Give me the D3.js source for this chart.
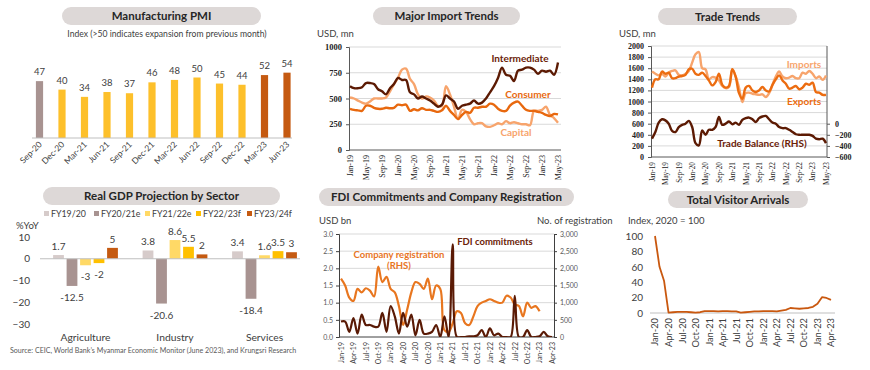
<!DOCTYPE html>
<html>
<head>
<meta charset="utf-8">
<script src="https://cdn.jsdelivr.net/npm/d3@7"></script>
<style>
  body { margin: 0; background: #fff; }
  svg { display: block; font-family: Lato, "Open Sans", sans-serif; }
</style>
</head>
<body>
<svg id="chart" width="870" height="370"></svg>
<script>
// ---- data ----
const pmiLabels = ["Sep-20","Dec-20","Mar-21","Jun-21","Sep-21","Dec-21","Mar-22","Jun-22","Sep-22","Dec-22","Mar-23","Jun-23"];
const pmiValues = [47, 40, 34, 38, 37, 46, 48, 50, 45, 44, 52, 54];
const pmiGroup = ["pre","mid","mid","mid","mid","mid","mid","mid","mid","mid","late","late"];

// monthly, Jan-19 .. May-23
const intermediate = [620,600,600,610,650,650,640,590,570,540,600,640,
  700,680,680,560,540,500,520,500,480,450,420,440,
  530,500,470,400,430,440,450,480,450,460,500,560,
  620,700,800,730,720,670,770,780,800,800,780,740,
  770,760,770,730,850];
const consumer = [400,390,385,380,430,430,410,400,400,410,405,410,
  440,435,440,380,395,385,405,390,390,380,370,385,
  430,380,340,300,340,370,360,410,410,420,420,450,
  440,400,380,380,430,460,470,430,390,380,380,370,
  360,340,330,350,345];
const capital = [510,500,480,460,450,470,500,500,500,510,570,640,
  700,780,790,690,640,540,500,520,510,480,430,430,
  620,540,420,300,390,370,300,250,260,260,230,225,
  240,260,250,280,260,270,260,250,250,240,380,380,
  390,420,340,310,265];
const importTicks = ["Jan-19","May-19","Sep-19","Jan-20","May-20","Sep-20","Jan-21","May-21","Sep-21","Jan-22","May-22","Sep-22","Jan-23","May-23"];

const tradeImports = [1540,1500,1470,1500,1450,1520,1550,1560,1480,1470,1500,1550,
  1700,1850,1890,1600,1580,1400,1440,1430,1380,1280,1240,1260,
  1580,1450,1250,990,1150,1160,1140,1130,1120,1130,1080,1150,
  1300,1450,1540,1450,1420,1430,1460,1420,1420,1520,1500,1550,
  1500,1420,1450,1390,1470];
const tradeExports = [1250,1400,1400,1540,1500,1520,1420,1420,1450,1460,1480,1580,
  1590,1500,1480,1520,1460,1380,1290,1350,1500,1300,1250,1280,
  1580,1450,1150,1050,1250,1280,1200,1170,1200,1260,1200,1180,
  1300,1400,1470,1380,1320,1230,1250,1280,1220,1250,1320,1300,
  1340,1170,1160,1120,1120];
const tradeBalance = [-270,-150,20,80,60,0,-130,-150,-60,-20,0,50,
  -60,-350,-390,-120,-200,-110,-110,-60,120,-20,0,40,
  -10,20,-20,70,100,110,80,30,100,130,140,80,
  20,0,-60,-80,-80,-110,-150,-190,-200,-200,-200,-200,
  -220,-270,-280,-270,-350];
const tradeTicks = importTicks;

const gdpSectors = ["Agriculture","Industry","Services"];
const gdpYears = ["FY19/20","FY20/21e","FY21/22e","FY22/23f","FY23/24f"];
const gdpAgriculture = [1.7, -12.5, -3, -2, 5];
const gdpIndustry = [3.8, -20.6, 8.6, 5.5, 2];
const gdpServices = [3.4, -18.4, 1.6, 3.5, 3];

// monthly, Jan-19 .. Apr-23
const fdiCommit = [0.45,0.45,0.15,0.55,0.1,0.65,0.35,0.35,0.3,0.3,0.7,0.15,
  0.9,0.6,0.1,0.7,0.3,0.65,0.05,0.5,0.1,0.1,0.15,0.35,
  0,0.6,0,2.7,0,0,0,0.02,0.02,0.05,0.2,0,
  0.25,0.05,0.1,0,0,0,1.2,0,0,0.2,0,0,
  0.02,0.15,0.02,0];
const companyReg = [1700,1500,1150,1050,1400,1300,1420,1350,1180,2050,1600,1750,
  1400,1300,900,350,800,1300,1600,1550,1400,1700,1100,1500,
  1400,200,150,400,750,700,400,350,600,900,1000,1050,
  1100,1050,1000,1000,1200,1150,950,900,600,1000,850,900,
  750];
const fdiTicks = ["Jan-19","Apr-19","Jul-19","Oct-19","Jan-20","Apr-20","Jul-20","Oct-20","Jan-21","Apr-21","Jul-21","Oct-21","Jan-22","Apr-22","Jul-22","Oct-22","Jan-23","Apr-23"];

// monthly, Jan-20 .. Apr-23
const visitors = [100,60,42,0.5,1,1.5,1.5,1.5,1,0.5,1,2.5,
  2.5,2.5,2,2.5,2.5,2,2,0.5,1,1.5,2,2,
  2.5,2.5,2.5,2,3,4,6.5,6,5.5,6,6.5,8,
  12,20.5,19.5,17];
const visitorTicks = ["Jan-20","Apr-20","Jul-20","Oct-20","Jan-21","Apr-21","Jul-21","Oct-21","Jan-22","Apr-22","Jul-22","Oct-22","Jan-23","Apr-23"];

// ---- drawing ----
const svg = d3.select("#chart");
const ink = "#404040";
const gridCol = "#d9d9d9";
const serif = "Liberation Serif, DejaVu Serif, serif";
const smooth = d3.curveCatmullRom.alpha(0.5);

function pill(x0, x1, y0, y1, label) {
  svg.append("rect")
    .attr("x", x0).attr("y", y0)
    .attr("width", x1 - x0).attr("height", y1 - y0)
    .attr("rx", (y1 - y0) / 2)
    .attr("fill", "#ddd8d7");
  svg.append("text")
    .attr("x", (x0 + x1) / 2).attr("y", (y0 + y1) / 2 + 4)
    .attr("text-anchor", "middle")
    .attr("font-weight", "bold").attr("font-size", 11.5)
    .attr("fill", "#262626")
    .text(label);
}

function note(x, y, str, opts = {}) {
  return svg.append("text")
    .attr("x", x).attr("y", y)
    .attr("text-anchor", opts.anchor || "start")
    .attr("font-size", opts.size || 9.5)
    .attr("font-weight", opts.weight || "normal")
    .attr("fill", opts.fill || ink)
    .text(str);
}

function drawLine(data, x, y, color, width) {
  svg.append("path")
    .datum(data)
    .attr("fill", "none")
    .attr("stroke", color)
    .attr("stroke-width", width)
    .attr("stroke-linejoin", "round")
    .attr("d", d3.line().x((d, i) => x(i)).y(d => y(d)).curve(smooth));
}

// rotated month labels under a monthly axis
function monthAxis(x, yPos, labels, step, font, size, color) {
  const g = svg.append("g").attr("transform", "translate(0," + yPos + ")")
    .call(d3.axisBottom(x)
      .tickValues(labels.map((d, i) => i * step))
      .tickFormat((d, i) => labels[i])
      .tickSize(0).tickPadding(0));
  g.select(".domain").remove();
  g.attr("font-family", font).attr("font-size", size);
  g.selectAll("text")
    .attr("transform", "rotate(-90)")
    .attr("x", -2).attr("y", 0).attr("dy", "0.32em")
    .style("text-anchor", "end")
    .style("font-family", font).attr("fill", color);
  return g;
}

// ===== 1. Manufacturing PMI =====
pill(62, 261, 7, 25, "Manufacturing PMI");
note(167, 37, "Index (>50 indicates expansion from previous month)", { anchor: "middle", size: 8.6 });

const pmiX = d3.scalePoint().domain(pmiLabels).range([39.5, 287]);
const pmiY = d3.scaleLinear().domain([0, 60]).range([138, 65.4]);
const pmiColor = d3.scaleOrdinal().domain(["pre", "mid", "late"]).range(["#a89391", "#fdc02b", "#c55a11"]);

svg.append("g").selectAll("rect")
  .data(pmiValues)
  .join("rect")
  .attr("x", (d, i) => pmiX(pmiLabels[i]) - 3.6)
  .attr("width", 7.2)
  .attr("y", d => pmiY(d))
  .attr("height", d => pmiY(0) - pmiY(d))
  .attr("fill", (d, i) => pmiColor(pmiGroup[i]));

svg.append("g").selectAll("text")
  .data(pmiValues)
  .join("text")
  .attr("x", (d, i) => pmiX(pmiLabels[i]))
  .attr("y", d => pmiY(d) - 6)
  .attr("text-anchor", "middle")
  .attr("font-size", 9.5).attr("fill", ink)
  .text(d => d);

svg.append("line").attr("x1", 32).attr("x2", 292)
  .attr("y1", pmiY(0)).attr("y2", pmiY(0))
  .attr("stroke", "#bfbfbf").attr("stroke-width", 1);

svg.append("g").selectAll("text")
  .data(pmiLabels)
  .join("text")
  .attr("transform", d => "translate(" + (pmiX(d) + 3) + ",145) rotate(-45)")
  .attr("text-anchor", "end")
  .attr("font-size", 8.5).attr("fill", ink)
  .text(d => d);

// ===== 2. Major Import Trends =====
pill(373, 520, 7, 25, "Major Import Trends");
note(317, 37, "USD, mn", { size: 9.5 });

const impX = d3.scaleLinear().domain([0, intermediate.length - 1]).range([350, 558]);
const impY = d3.scaleLinear().domain([0, 1000]).range([150, 47]);

svg.append("g").selectAll("line")
  .data([250, 500, 750, 1000])
  .join("line")
  .attr("x1", 349).attr("x2", 561)
  .attr("y1", d => impY(d)).attr("y2", d => impY(d))
  .attr("stroke", gridCol);

const impAxis = svg.append("g").attr("transform", "translate(349,0)")
  .call(d3.axisLeft(impY).tickValues([0, 250, 500, 750, 1000]).tickFormat(d3.format("d")).tickSize(3).tickPadding(4));
impAxis.select(".domain").attr("stroke", "#595959");
impAxis.selectAll("line").attr("stroke", "#595959");
impAxis.attr("font-family", serif);
impAxis.selectAll("text").style("font-family", serif).attr("font-weight", "bold").attr("font-size", 8.5).attr("fill", "#222");
svg.append("line").attr("x1", 349).attr("x2", 561).attr("y1", 150).attr("y2", 150).attr("stroke", "#595959");

monthAxis(impX, 153, importTicks, 4, serif, 8, "#222");

drawLine(capital, impX, impY, "#f7a46c", 2.4);
drawLine(consumer, impX, impY, "#e8680e", 2.4);
drawLine(intermediate, impX, impY, "#5c1a03", 2.4);

note(520, 62, "Intermediate", { anchor: "middle", size: 10, weight: "bold", fill: "#6b2208" });
note(528, 98, "Consumer", { anchor: "middle", size: 10, weight: "bold", fill: "#e8680e" });
note(516, 136, "Capital", { anchor: "middle", size: 10, weight: "bold", fill: "#f7a46c" });

// ===== 3. Trade Trends =====
pill(658, 797, 8, 25, "Trade Trends");
note(619, 37, "USD, mn", { size: 9.5 });

const trX = d3.scaleLinear().domain([0, tradeImports.length - 1]).range([652, 826]);
const trY = d3.scaleLinear().domain([0, 2000]).range([157, 46]);
const trY2 = d3.scaleLinear().domain([-600, 1400]).range([157, 46]);

svg.append("g").selectAll("line")
  .data(d3.range(200, 2001, 200))
  .join("line")
  .attr("x1", 651).attr("x2", 827)
  .attr("y1", d => trY(d)).attr("y2", d => trY(d))
  .attr("stroke", gridCol);

const trAxisL = svg.append("g").attr("transform", "translate(651,0)")
  .call(d3.axisLeft(trY).tickValues(d3.range(0, 2001, 200)).tickFormat(d3.format("d")).tickSize(3).tickPadding(4));
const trAxisR = svg.append("g").attr("transform", "translate(827,0)")
  .call(d3.axisRight(trY2).tickValues([-600, -400, -200, 0]).tickFormat(d3.format("d")).tickSize(3).tickPadding(5).tickSizeOuter(0));
[trAxisL, trAxisR].forEach(g => {
  g.attr("font-family", serif);
  g.select(".domain").attr("stroke", "#595959");
  g.selectAll("line").attr("stroke", "#595959");
  g.selectAll("text").style("font-family", serif).attr("font-weight", "bold").attr("font-size", 8).attr("fill", "#222");
});
trAxisR.select(".domain").attr("d", "M0,46V157");
svg.append("line").attr("x1", 651).attr("x2", 827).attr("y1", 157).attr("y2", 157).attr("stroke", "#595959");

monthAxis(trX, 160, tradeTicks, 4, serif, 7.3, "#222");

drawLine(tradeImports, trX, trY, "#f7a46c", 2.4);
drawLine(tradeExports, trX, trY, "#ec6c10", 2.4);
drawLine(tradeBalance, trX, trY2, "#5c1a03", 2.4);

note(804, 68, "Imports", { anchor: "middle", size: 10, weight: "bold", fill: "#f7a46c" });
note(804, 105, "Exports", { anchor: "middle", size: 10, weight: "bold", fill: "#ec6c10" });
note(762, 147, "Trade Balance (RHS)", { anchor: "middle", size: 10, weight: "bold", fill: "#6b2208" });

// ===== 4. Real GDP Projection by Sector =====
pill(43, 280, 187, 205, "Real GDP Projection by Sector");

const gdpColor = d3.scaleOrdinal().domain(gdpYears).range(["#d6cbca", "#a89391", "#ffd966", "#ffc000", "#c55a11"]);
const legendX = [44, 94, 145, 196, 247];
gdpYears.forEach((yr, i) => {
  svg.append("rect").attr("x", legendX[i]).attr("y", 211).attr("width", 5).attr("height", 5).attr("fill", gdpColor(yr));
  note(legendX[i] + 7, 217, yr, { size: 8.8 });
});
note(16, 229, "%YoY", { size: 9.5 });

const gdpRows = [gdpAgriculture, gdpIndustry, gdpServices];
const gx0 = d3.scaleBand().domain(gdpSectors).range([40.75, 309.25]);
const gx1 = d3.scaleBand().domain(gdpYears).range([-33.75, 33.75]).paddingInner(0.2).paddingOuter(0.1);
const gy = d3.scaleLinear().domain([-30, 10]).range([324, 237]);

const gdpAxis = svg.append("g").attr("transform", "translate(32,0)")
  .call(d3.axisLeft(gy).tickValues([-30, -20, -10, 0, 10]).tickSize(0).tickPadding(2));
gdpAxis.select(".domain").remove();
gdpAxis.attr("font-family", "Lato, sans-serif");
gdpAxis.selectAll("text").attr("font-size", 10).attr("fill", ink);

gdpSectors.forEach((sec, si) => {
  const cx = gx0(sec) + gx0.bandwidth() / 2;
  const g = svg.append("g").attr("transform", "translate(" + cx + ",0)");
  g.selectAll("rect")
    .data(gdpRows[si])
    .join("rect")
    .attr("x", (d, i) => gx1(gdpYears[i]))
    .attr("width", gx1.bandwidth())
    .attr("y", d => gy(Math.max(0, d)))
    .attr("height", d => Math.abs(gy(d) - gy(0)))
    .attr("fill", (d, i) => gdpColor(gdpYears[i]));
  g.selectAll("text")
    .data(gdpRows[si])
    .join("text")
    .attr("x", (d, i) => gx1(gdpYears[i]) + gx1.bandwidth() / 2)
    .attr("y", d => d >= 0 ? gy(d) - 5 : gy(d) + 15)
    .attr("text-anchor", "middle")
    .attr("font-size", 10).attr("fill", ink)
    .text(d => d);
  note(cx, 341, sec, { anchor: "middle", size: 10.3 });
});

svg.append("line").attr("x1", 40).attr("x2", 300)
  .attr("y1", gy(0)).attr("y2", gy(0))
  .attr("stroke", "#bfbfbf");

note(10, 353, "Source: CEIC, World Bank\u2019s Myanmar Economic Monitor (June 2023), and Krungsri Research", { size: 7.1, fill: "#595959" });

// ===== 5. FDI Commitments and Company Registration =====
pill(319, 574, 188, 206, "FDI Commitments and Company Registration");
note(319, 224, "USD bn", { size: 9.5 });
note(537, 224, "No. of registration", { size: 9.5 });

const fdX = d3.scaleLinear().domain([0, fdiCommit.length - 1]).range([341, 552]);
const fdY = d3.scaleLinear().domain([0, 3]).range([337, 234]);
const fdY2 = d3.scaleLinear().domain([0, 3000]).range([337, 234]);

svg.append("g").selectAll("line")
  .data(d3.range(0.5, 3.01, 0.5))
  .join("line")
  .attr("x1", 339).attr("x2", 554)
  .attr("y1", d => fdY(d)).attr("y2", d => fdY(d))
  .attr("stroke", gridCol);

const fdAxisL = svg.append("g").attr("transform", "translate(339,0)")
  .call(d3.axisLeft(fdY).tickValues(d3.range(0, 3.01, 0.5)).tickFormat(d3.format(".1f")).tickSize(3).tickPadding(3));
const fdAxisR = svg.append("g").attr("transform", "translate(554,0)")
  .call(d3.axisRight(fdY2).tickValues(d3.range(0, 3001, 500)).tickFormat(d3.format(",")).tickSize(3).tickPadding(3));
[fdAxisL, fdAxisR].forEach(g => {
  g.attr("font-family", "Lato, sans-serif");
  g.select(".domain").attr("stroke", "#404040");
  g.selectAll("line").attr("stroke", "#404040");
  g.selectAll("text").attr("font-size", 7).attr("fill", "#595959");
});
svg.append("line").attr("x1", 339).attr("x2", 554).attr("y1", 337).attr("y2", 337).attr("stroke", "#404040");

monthAxis(fdX, 340, fdiTicks, 3, "Lato, sans-serif", 7, "#404040");

svg.append("clipPath").attr("id", "fdClip")
  .append("rect").attr("x", 339).attr("y", 225).attr("width", 215).attr("height", 112);

const fdG = svg.append("g").attr("clip-path", "url(#fdClip)");
fdG.append("path").datum(companyReg)
  .attr("fill", "none").attr("stroke", "#e8761f").attr("stroke-width", 2.2)
  .attr("d", d3.line().x((d, i) => fdX(i)).y(d => fdY2(d)).curve(smooth));
fdG.append("path").datum(fdiCommit)
  .attr("fill", "none").attr("stroke", "#5a1a05").attr("stroke-width", 2.2)
  .attr("d", d3.line().x((d, i) => fdX(i)).y(d => fdY(d)).curve(smooth));

note(495, 245, "FDI commitments", { anchor: "middle", size: 9.5, weight: "bold", fill: "#6b2208" });
note(399, 258, "Company registration", { anchor: "middle", size: 9.5, weight: "bold", fill: "#e8761f" });
note(399, 269, "(RHS)", { anchor: "middle", size: 9.5, weight: "bold", fill: "#e8761f" });

// ===== 6. Total Visitor Arrivals =====
pill(668, 808, 191, 208, "Total Visitor Arrivals");
note(628, 224, "Index, 2020 = 100", { size: 9.5 });

const vX = d3.scaleLinear().domain([0, visitors.length - 1]).range([655, 831]);
const vY = d3.scaleLinear().domain([0, 100]).range([313, 236]);

const vAxis = svg.append("g").attr("transform", "translate(645,0)")
  .call(d3.axisLeft(vY).tickValues(d3.range(0, 101, 20)).tickSize(0).tickPadding(2));
vAxis.select(".domain").remove();
vAxis.attr("font-family", "Lato, sans-serif");
vAxis.selectAll("text").attr("font-size", 10).attr("fill", ink);

svg.append("line").attr("x1", 650).attr("x2", 835).attr("y1", 313).attr("y2", 313).attr("stroke", "#bfbfbf");
monthAxis(vX, 316, visitorTicks, 3, "Lato, sans-serif", 9.3, ink);

svg.append("path").datum(visitors)
  .attr("fill", "none").attr("stroke", "#c9580f").attr("stroke-width", 1.8)
  .attr("stroke-linejoin", "round")
  .attr("d", d3.line().x((d, i) => vX(i)).y(d => vY(d)));
</script>
</body>
</html>
